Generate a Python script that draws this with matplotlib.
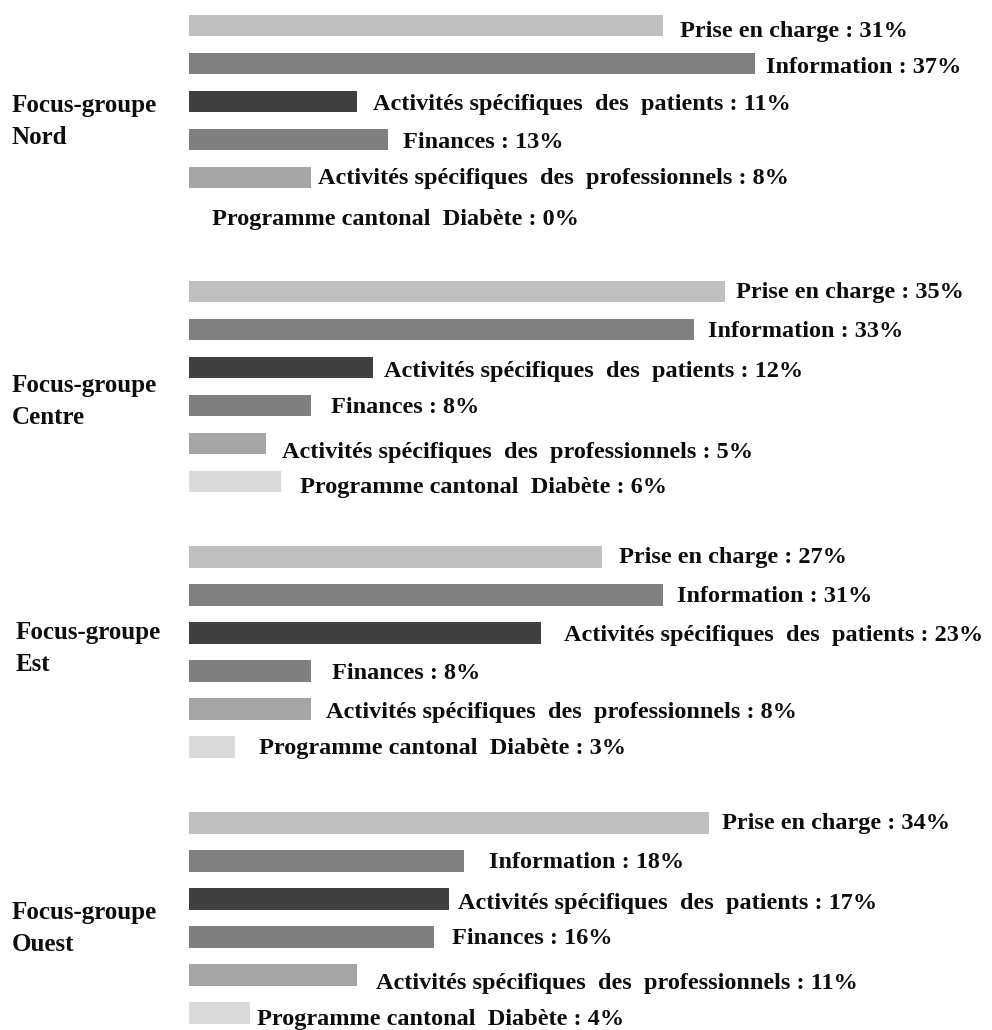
import matplotlib
matplotlib.use("Agg")
import matplotlib.pyplot as plt
import numpy as np
from matplotlib.transforms import offset_copy, blended_transform_factory

# ---------------- data ----------------
groups = ["Focus-groupe\nNord", "Focus-groupe\nCentre", "Focus-groupe\nEst", "Focus-groupe\nOuest"]
categories = [
    "Prise en charge",
    "Information",
    "Activités spécifiques  des  patients",
    "Finances",
    "Activités spécifiques  des  professionnels",
    "Programme cantonal  Diabète",
]
nord = [31, 37, 11, 13, 8, 0]
centre = [35, 33, 12, 8, 5, 6]
est = [27, 31, 23, 8, 8, 3]
ouest = [34, 18, 17, 16, 11, 4]
series = [nord, centre, est, ouest]

# ---------------- style / layout ----------------
colors = ["#bfbfbf", "#808080", "#404040", "#7f7f7f", "#a5a5a5", "#d9d9d9"]
FONT = "Liberation Serif"
FS = 17.5
GFS = 18
W, H = 992, 1030
x0_px = 189          # bar origin
px_per_unit = 15.3   # horizontal scale
y0_px = 25.5         # centre of the first bar
px_per_slot = 37.98  # vertical spacing of bar slots
group_step = 7
bar_h = 21.5 / px_per_slot

# label nudges (pixels): gap after bar end, vertical shift (down positive)
gap_px = [[17, 11, 16, 15, 7, 23],
          [12, 14, 11, 20, 17, 19],
          [17, 14, 23, 21, 15, 24],
          [13, 25, 9, 18, 19, 7]]
dy_px = [[6, 4, 3, 3, 1, 4],
         [1, 2, 4, 2, 9, 6],
         [0, 1, 2, 2, 3, 1],
         [0, 1, 4, 1, 8, 7]]
grp_dx = [0, 0, 4, 0]
grp_dy = [1, 15, -4, 10]

fig = plt.figure(figsize=(W / 100, H / 100), dpi=100)
ax = fig.add_axes([x0_px / W, 0, 1 - x0_px / W, 1])
ax.set_xlim(0, (W - x0_px) / px_per_unit)
ax.set_ylim((H - y0_px) / px_per_slot, -y0_px / px_per_slot)
ax.axis("off")

n = len(categories)
for g, vals in enumerate(series):
    pos = g * group_step + np.arange(n)
    ax.barh(pos, vals, height=bar_h, color=colors, linewidth=0)
    for i, (p, v) in enumerate(zip(pos, vals)):
        tr = offset_copy(ax.transData, fig=fig, x=gap_px[g][i], y=-dy_px[g][i], units="dots")
        ax.text(v, p, f"{categories[i]} : {v}%", transform=tr, ha="left", va="center",
                fontsize=FS, fontweight="bold", family=FONT, color="#0d0d0d")
    btr = blended_transform_factory(fig.transFigure, ax.transData)
    btr = offset_copy(btr, fig=fig, x=grp_dx[g], y=-grp_dy[g], units="dots")
    ax.text(12 / W, g * group_step + 2.5, groups[g], transform=btr, ha="left", va="center",
            fontsize=GFS, fontweight="bold", family=FONT, color="#0d0d0d", linespacing=1.5)

fig.savefig("out.png", dpi=100)
